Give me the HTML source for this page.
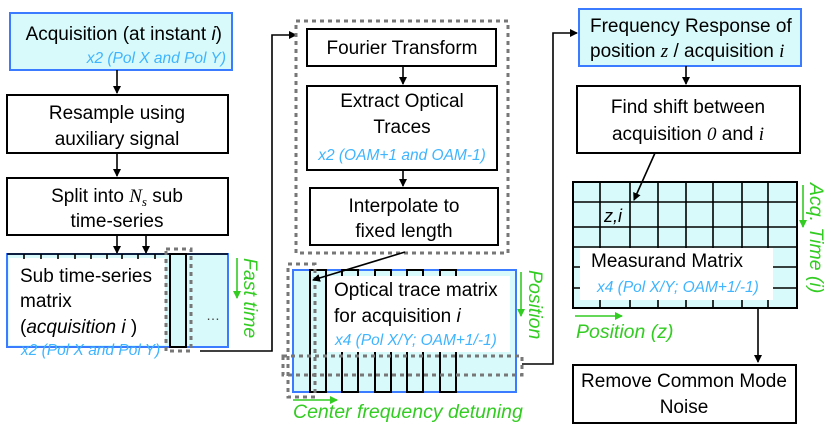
<!DOCTYPE html>
<html><head><style>
html,body{margin:0;padding:0;background:#fff;}
svg text{font-family:"Liberation Sans",sans-serif;}
.t{font-size:19px;fill:#000;}
.b{font-size:15.5px;fill:#3fb4ff;font-style:italic;}
.g{font-size:19.5px;fill:#33cc22;font-style:italic;}
</style></head><body>
<svg width="831" height="443" viewBox="0 0 831 443" xmlns="http://www.w3.org/2000/svg">
<defs>
<marker id="a" markerWidth="8" markerHeight="8" refX="7" refY="4" orient="auto" markerUnits="userSpaceOnUse"><path d="M0,0 L8,4 L0,8 Z" fill="#000"/></marker>
<marker id="ag" markerWidth="8" markerHeight="8" refX="7" refY="4" orient="auto" markerUnits="userSpaceOnUse"><path d="M0,0 L8,4 L0,8 Z" fill="#33cc22"/></marker>
</defs>
<g stroke="#000" stroke-width="1.6" fill="none">
<rect x="10" y="13" width="222" height="57" fill="#d8fafa" stroke="#3a7bff" stroke-width="2"/>
<line x1="117" y1="70" x2="117" y2="93" marker-end="url(#a)"/>
<rect x="7" y="95" width="221" height="58" fill="#fff" stroke-width="2"/>
<line x1="117" y1="153" x2="117" y2="176" marker-end="url(#a)"/>
<rect x="7" y="178" width="221" height="57" fill="#fff" stroke-width="2"/>
<line x1="117" y1="235" x2="117" y2="253" marker-end="url(#a)"/>
<line x1="146" y1="235" x2="146" y2="253" marker-end="url(#a)"/>
<rect x="7" y="254" width="221" height="93" fill="#d8fafa" stroke="#3a7bff" stroke-width="2"/>
<rect x="9" y="258" width="156" height="87" fill="#fff" stroke="none"/>
<path d="M24,254v5 M41,254v5 M58,254v5 M75,254v5 M91,254v5 M107,254v5 M122,254v5 M138,254v5 M155,254v5"/>
<line x1="7" y1="254" x2="228" y2="254" stroke="#000" stroke-width="1.6"/>
<rect x="170" y="254" width="16" height="93" stroke-width="2"/>
<rect x="166" y="249" width="25" height="102" stroke="#777" stroke-width="3" stroke-dasharray="4,4"/>
<polyline points="200,351 272,351 272,35 296,35" marker-end="url(#a)"/>
<rect x="296" y="21" width="212" height="232" stroke="#777" stroke-width="3" stroke-dasharray="4,4"/>
<rect x="307" y="29" width="189" height="37" fill="#fff" stroke-width="2"/>
<line x1="403" y1="66" x2="403" y2="84" marker-end="url(#a)"/>
<rect x="307" y="86" width="190" height="84" fill="#fff" stroke-width="2"/>
<line x1="403" y1="170" x2="403" y2="186" marker-end="url(#a)"/>
<rect x="310" y="188" width="188" height="57" fill="#fff" stroke-width="2"/>
<rect x="293" y="270" width="223" height="122" fill="#d8fafa" stroke="#3a7bff" stroke-width="2"/>
<rect x="310" y="270" width="16" height="122" stroke-width="2"/>
<rect x="342" y="270" width="16" height="122" stroke-width="2"/>
<rect x="375" y="270" width="16" height="122" stroke-width="2"/>
<rect x="407" y="270" width="16" height="122" stroke-width="2"/>
<rect x="440" y="270" width="16" height="122" stroke-width="2"/>
<rect x="327" y="276" width="183" height="76" fill="#fff" stroke="none"/>
<rect x="288" y="264" width="27" height="133" stroke="#777" stroke-width="3" stroke-dasharray="4,4"/>
<rect x="283" y="356" width="239" height="19" stroke="#777" stroke-width="3" stroke-dasharray="4,4"/>
<line x1="405" y1="252" x2="313" y2="280" marker-end="url(#a)"/>
<polyline points="522,364 553,364 553,33 577,33" marker-end="url(#a)"/>
<rect x="579" y="9" width="222" height="57" fill="#d8fafa" stroke="#3a7bff" stroke-width="2"/>
<line x1="686" y1="66" x2="686" y2="84" marker-end="url(#a)"/>
<rect x="577" y="86" width="223" height="67" fill="#fff" stroke-width="2"/>
<rect x="573" y="182" width="224" height="126" fill="#d8fafa" stroke-width="2"/>
<path d="M600,182v126 M630,182v126 M658,182v126 M686,182v126 M713,182v126 M742,182v126 M768,182v126 M573,202h224 M573,227h224 M573,247h224 M573,267h224 M573,288h224"/>
<rect x="580" y="248" width="193" height="52" fill="#fff" stroke="none"/>
<line x1="655" y1="153" x2="634" y2="200" marker-end="url(#a)"/>
<line x1="758" y1="308" x2="758" y2="362" marker-end="url(#a)"/>
<rect x="573" y="365" width="223" height="58" fill="#fff" stroke-width="2"/>
</g>
<g stroke="#33cc22" stroke-width="1.6">
<line x1="237" y1="258" x2="237" y2="298" marker-end="url(#ag)"/>
<line x1="521" y1="272" x2="521" y2="316" marker-end="url(#ag)"/>
<line x1="293" y1="400" x2="337" y2="400" marker-end="url(#ag)"/>
<line x1="803" y1="185" x2="803" y2="227" marker-end="url(#ag)"/>
<line x1="575" y1="316" x2="622" y2="316" marker-end="url(#ag)"/>
</g>
<text class="t" x="222" y="40" text-anchor="end">Acquisition (at instant <tspan font-style="italic">i</tspan>)</text>
<text class="b" x="226" y="63" text-anchor="end">x2 (Pol X and Pol Y)</text>
<text class="t" x="117" y="119" text-anchor="middle">Resample using</text>
<text class="t" x="117" y="145" text-anchor="middle">auxiliary signal</text>
<text class="t" x="117" y="202" text-anchor="middle">Split into <tspan font-family="Liberation Serif" font-style="italic">N<tspan font-size="13" dy="4">s</tspan></tspan><tspan dy="-4"> sub</tspan></text>
<text class="t" x="117" y="227" text-anchor="middle">time-series</text>
<text class="t" x="20" y="282">Sub time-series</text>
<text class="t" x="20" y="307">matrix</text>
<text class="t" x="20" y="333">(<tspan font-style="italic">acquisition i</tspan> )</text>
<text class="b" x="21" y="355">x2 (Pol X and Pol Y)</text>
<text x="206" y="320" font-size="14" fill="#444" font-family="Liberation Sans">…</text>
<text class="g" transform="translate(244,258) rotate(90)">Fast time</text>
<text class="t" x="402" y="54" text-anchor="middle">Fourier Transform</text>
<text class="t" x="402" y="107" text-anchor="middle">Extract Optical</text>
<text class="t" x="402" y="133" text-anchor="middle">Traces</text>
<text class="b" x="402" y="160" text-anchor="middle">x2 (OAM+1 and OAM-1)</text>
<text class="t" x="404" y="212" text-anchor="middle">Interpolate to</text>
<text class="t" x="404" y="237" text-anchor="middle">fixed length</text>
<text class="t" x="334" y="296">Optical trace matrix</text>
<text class="t" x="334" y="322">for acquisition <tspan font-style="italic">i</tspan></text>
<text class="b" x="335" y="345">x4 (Pol X/Y; OAM+1/-1)</text>
<text class="g" transform="translate(529,270) rotate(90)">Position</text>
<text class="g" x="293" y="418">Center frequency detuning</text>
<text class="t" x="590" y="32">Frequency Response of</text>
<text class="t" x="590" y="57">position <tspan font-family="Liberation Serif" font-style="italic">z</tspan> / acquisition <tspan font-family="Liberation Serif" font-style="italic">i</tspan></text>
<text class="t" x="688" y="113" text-anchor="middle">Find shift between</text>
<text class="t" x="688" y="140" text-anchor="middle">acquisition <tspan font-family="Liberation Serif" font-style="italic">0</tspan> and <tspan font-family="Liberation Serif" font-style="italic">i</tspan></text>
<text x="604" y="222" font-size="18" font-family="Liberation Serif" font-style="italic">z,i</text>
<text class="t" x="591" y="267">Measurand Matrix</text>
<text class="b" x="597" y="292">x4 (Pol X/Y; OAM+1/-1)</text>
<text class="g" transform="translate(810,183) rotate(90)">Acq. Time (i)</text>
<text class="g" x="576" y="338">Position (z)</text>
<text class="t" x="684" y="387" text-anchor="middle">Remove Common Mode</text>
<text class="t" x="684" y="413" text-anchor="middle">Noise</text>
</svg>
</body></html>
